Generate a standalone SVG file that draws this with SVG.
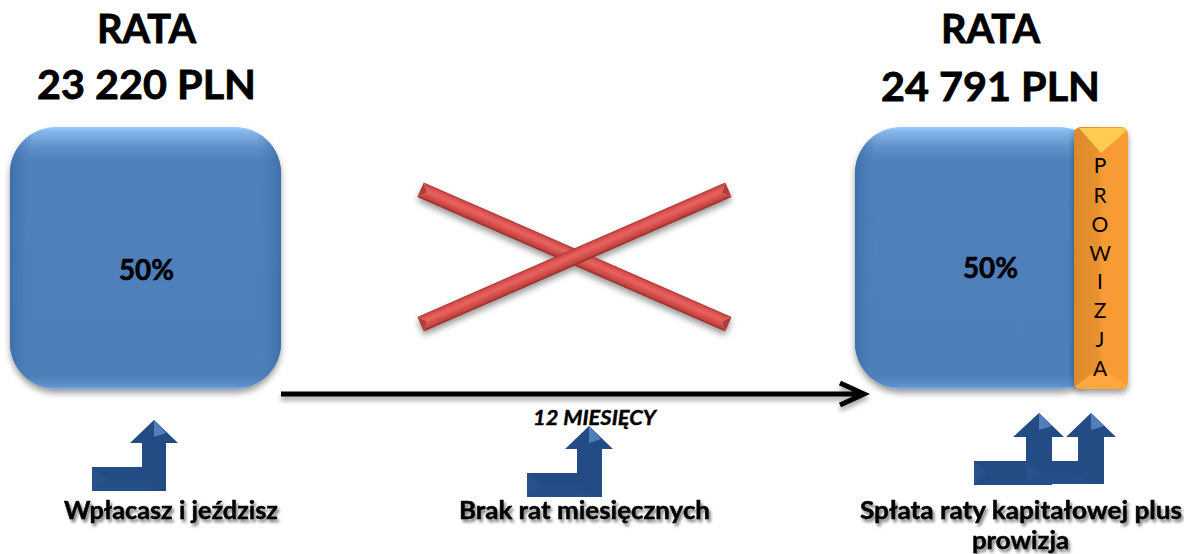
<svg xmlns="http://www.w3.org/2000/svg" width="1184" height="554" viewBox="0 0 1184 554">
<style>
text{font-family:"Lato","Liberation Sans",sans-serif;fill:#000}
.title{font-size:41px;font-weight:700;stroke:#000;stroke-width:.8px}
.pct{font-size:28px;font-weight:700;stroke:#000;stroke-width:.6px}
.cap{font-size:24.500px;font-weight:700;stroke:#000;stroke-width:.45px;filter:url(#ts)}
.l{font-size:21px;text-anchor:middle}
.arr{fill:#234c84}
.sh{fill:#2b578f}
.hi{fill:#4f80bb}
</style>
<defs>
<filter id="ds" x="-10%" y="-10%" width="120%" height="120%"><feGaussianBlur in="SourceAlpha" stdDeviation="3"/><feOffset dy="4"/><feComponentTransfer><feFuncA type="linear" slope=".4"/></feComponentTransfer><feMerge><feMergeNode/><feMergeNode in="SourceGraphic"/></feMerge></filter>
<filter id="ts" x="-5%" y="-20%" width="110%" height="150%"><feGaussianBlur in="SourceAlpha" stdDeviation="1.5"/><feOffset dx="1.5" dy="2.5"/><feComponentTransfer><feFuncA type="linear" slope=".5"/></feComponentTransfer><feMerge><feMergeNode/><feMergeNode in="SourceGraphic"/></feMerge></filter>
<filter id="ls" x="-5%" y="-300%" width="110%" height="700%"><feGaussianBlur in="SourceAlpha" stdDeviation="2.5"/><feOffset dy="4"/><feComponentTransfer><feFuncA type="linear" slope=".35"/></feComponentTransfer><feMerge><feMergeNode/><feMergeNode in="SourceGraphic"/></feMerge></filter>
<linearGradient id="bv" x1="0" y1="0" x2="0" y2="1"><stop offset="0" stop-color="#9cccff"/><stop offset=".015" stop-color="#86b8ec"/><stop offset=".08" stop-color="#5f90c9"/><stop offset=".13" stop-color="#4f81bd"/><stop offset=".95" stop-color="#4e7fb9"/><stop offset=".99" stop-color="#5f92cf"/><stop offset="1" stop-color="#7fb0ea"/></linearGradient>
<linearGradient id="bh" x1="0" y1="0" x2="1" y2="0"><stop offset="0" stop-color="#3f6fa8"/><stop offset=".09" stop-color="#4f81bd" stop-opacity="0"/><stop offset=".91" stop-color="#4f81bd" stop-opacity="0"/><stop offset="1" stop-color="#3f6fa8"/></linearGradient>
<linearGradient id="og" x1="0" y1="0" x2="1" y2="0"><stop offset="0" stop-color="#dc882c"/><stop offset=".45" stop-color="#e8922f"/><stop offset=".52" stop-color="#f89a34"/><stop offset="1" stop-color="#fb9d36"/></linearGradient>
<linearGradient id="red" x1="0" y1="0" x2="0" y2="1"><stop offset="0" stop-color="#a83634"/><stop offset=".14" stop-color="#d64f4c"/><stop offset=".42" stop-color="#e8635f"/><stop offset=".82" stop-color="#c8453f"/><stop offset="1" stop-color="#8e2c29"/></linearGradient>
</defs>

<g id="node-left">
<rect x="10" y="127" width="271" height="262" rx="46" fill="url(#bv)" filter="url(#ds)"/>
<rect x="10" y="127" width="271" height="262" rx="46" fill="url(#bh)"/>
<text class="pct" x="119" y="280" textLength="55" lengthAdjust="spacingAndGlyphs">50%</text>
</g>
<g id="node-right">
<rect x="855" y="127" width="250" height="262" rx="46" fill="url(#bv)" filter="url(#ds)"/>
<rect x="855" y="127" width="250" height="262" rx="46" fill="url(#bh)"/>
<text class="pct" x="963" y="278" textLength="55" lengthAdjust="spacingAndGlyphs">50%</text>
</g>
<g id="node-prowizja">
<rect x="1074" y="127" width="54" height="262" rx="7" fill="url(#og)" filter="url(#ds)"/>
<path d="M1079 128H1123Q1126 128 1126 131L1101 153Z" fill="#ffcb50"/>
<path d="M1075 386L1092 374H1110L1127 386Q1126 389 1122 389H1080Q1076 389 1075 386Z" fill="#ffa73c"/>
<text class="l" x="1100" y="173">P</text>
<text class="l" x="1100" y="203">R</text>
<text class="l" x="1100" y="232">O</text>
<text class="l" x="1100" y="261">W</text>
<text class="l" x="1100" y="289">I</text>
<text class="l" x="1100" y="318">Z</text>
<text class="l" x="1100" y="347">J</text>
<text class="l" x="1100" y="376">A</text>
</g>

<g id="node-cross">
<g filter="url(#ds)">
<g transform="translate(574.5 257) rotate(23.6)"><path d="M-168 -8H168L161 0L168 8H-168L-161 0Z" fill="url(#red)"/><path d="M-168 -8L-161 0L-168 8ZM168 -8L161 0L168 8Z" fill="#b03c3a"/></g>
<g transform="translate(574.5 257) rotate(-23.6)"><path d="M-168 -8H168L161 0L168 8H-168L-161 0Z" fill="url(#red)"/><path d="M-168 -8L-161 0L-168 8ZM168 -8L161 0L168 8Z" fill="#b03c3a"/></g>
</g>
</g>

<g id="connectors">
<path d="M281 394H864M840 383L864 394L840 405" fill="none" stroke="#000" stroke-width="5" filter="url(#ls)"/>
</g>

<g id="titles">
<text class="title" x="97" y="43" textLength="99" lengthAdjust="spacingAndGlyphs">RATA</text>
<text class="title" x="37" y="99" textLength="219" lengthAdjust="spacingAndGlyphs">23 220 PLN</text>
<text class="title" x="941" y="43" textLength="99" lengthAdjust="spacingAndGlyphs">RATA</text>
<text class="title" x="881" y="101" textLength="219" lengthAdjust="spacingAndGlyphs">24 791 PLN</text>
</g>

<g id="node-arrow-left">
<path class="arr" d="M92 467H142V443H130L154 420L178 443H166V491H92Z"/>
<path class="sh" d="M92 467L106 479L92 491Z" opacity=".6"/>
<path class="sh" d="M106 479H142L154 491H92Z" opacity=".35"/>
<path class="hi" d="M154 420V437L166 433Z"/>
<text class="cap" x="64" y="519" textLength="214" lengthAdjust="spacingAndGlyphs">Wpłacasz i jeździsz</text>
</g>
<g id="node-arrow-middle">
<path class="arr" d="M527 473H577V449H565L589 426L613 449H602V497H527Z"/>
<path class="sh" d="M527 473L541 485L527 497Z" opacity=".6"/>
<path class="sh" d="M541 485H577L589 497H527Z" opacity=".35"/>
<path class="hi" d="M589 426V443L601 439Z"/>
<text class="cap" x="459" y="519" textLength="251" lengthAdjust="spacingAndGlyphs">Brak rat miesięcznych</text>
</g>
<g id="node-arrow-right">
<path class="arr" d="M974 461H1026V437H1013L1039 413L1064 437H1052V485H974Z"/>
<path class="sh" d="M974 461L987 473L974 485Z" opacity=".6"/>
<path class="hi" d="M1039 413V430L1052 426Z"/>
<path class="arr" d="M1026 461H1078V437H1066L1091 413L1116 437H1104V484H1026Z"/>
<path class="sh" d="M1026 461L1040 473L1026 484Z" opacity=".6"/>
<path class="sh" d="M1040 473H1078L1092 484H1026Z" opacity=".35"/>
<path class="hi" d="M1091 413V430L1104 426Z"/>
<text class="cap" x="860" y="519" textLength="322" lengthAdjust="spacingAndGlyphs">Spłata raty kapitałowej plus</text>
<text class="cap" x="972" y="549" textLength="97" lengthAdjust="spacingAndGlyphs">prowizja</text>
</g>
<g id="label-months">
<text x="533" y="425" font-size="20" font-weight="700" font-style="italic" stroke="#000" stroke-width=".4" textLength="123" lengthAdjust="spacingAndGlyphs">12 MIESIĘCY</text>
</g>
</svg>
